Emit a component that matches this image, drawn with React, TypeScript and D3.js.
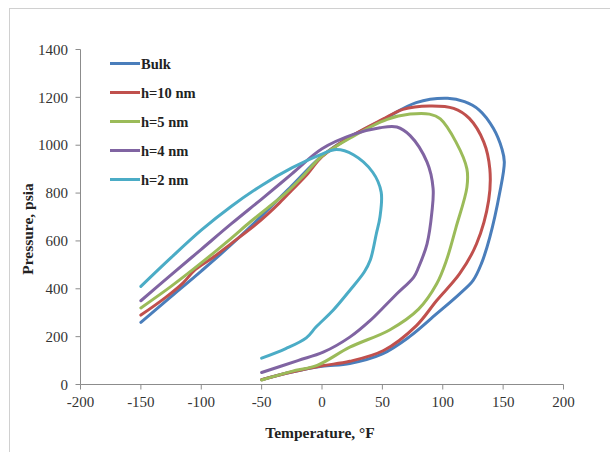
import React from "react";
import * as d3 from "d3";

type Pt = [number, number];

const seriesNames = ["Bulk", "h=10 nm", "h=5 nm", "h=4 nm", "h=2 nm"];
const seriesColors = ["#4A7EBB", "#C0504D", "#9BBB59", "#8064A2", "#4BACC6"];

const bulk: Pt[] = [
  [-150, 260], [-125, 367], [-100, 474], [-75, 585], [-50, 705], [-25, 830], [0, 955],
  [25, 1040], [50, 1105], [78, 1178], [104, 1196], [118, 1182], [130, 1148], [142, 1070],
  [149, 985], [151, 930], [147, 797], [139, 616], [132, 505], [125, 434], [114, 379],
  [95, 296], [72, 198], [50, 128], [23, 88], [0, 76], [-25, 52], [-50, 20],
];
const h10: Pt[] = [
  [-150, 290], [-130, 362], [-115, 425], [-105, 480], [-90, 532], [-75, 590], [-55, 668],
  [-45, 712], [-35, 760], [-25, 812], [-12, 880], [0, 952], [25, 1040], [50, 1108], [67, 1150],
  [89, 1164], [109, 1154], [122, 1112], [134, 1013], [139, 900], [138, 769], [128, 588],
  [114, 463], [95, 351], [78, 245], [51, 142], [23, 97], [0, 78], [-25, 52], [-50, 20],
];
const h5: Pt[] = [
  [-150, 320], [-125, 410], [-100, 508], [-75, 612], [-60, 677], [-45, 738], [-30, 800],
  [-15, 875], [0, 955], [25, 1035], [54, 1108], [73, 1130], [89, 1130], [98, 1110],
  [111, 1013], [120, 901], [120, 824], [111, 657], [103, 518], [95, 421], [80, 315],
  [56, 228], [23, 156], [-4, 80], [-25, 55], [-50, 19],
];
const h4: Pt[] = [
  [-150, 350], [-125, 458], [-100, 565], [-75, 672], [-50, 775], [-25, 880], [0, 985],
  [26, 1045], [48, 1073], [62, 1076], [73, 1040], [87, 929], [92, 820], [91, 720],
  [87, 588], [80, 490], [76, 449], [62, 379], [51, 323], [40, 268], [23, 198], [1, 135],
  [-20, 100], [-50, 50],
];
const h2: Pt[] = [
  [-150, 410], [-125, 530], [-100, 645], [-75, 745], [-50, 832], [-25, 905], [0, 963],
  [12, 982], [26, 960], [42, 887], [49, 804], [48, 700], [45, 630], [40, 520], [35, 470],
  [23, 393], [9, 309], [-5, 240], [-13, 195], [-30, 150], [-50, 110],
];
const seriesData: Pt[][] = [bulk, h10, h5, h4, h2];

const xTicks = [-200, -150, -100, -50, 0, 50, 100, 150, 200];
const yTicks = [0, 200, 400, 600, 800, 1000, 1200, 1400];

export default function App() {
  const W = 610, H = 452;
  const x = d3.scaleLinear().domain([-200, 200]).range([80.5, 563.5]);
  const y = d3.scaleLinear().domain([0, 1400]).range([384.5, 49.5]);
  const line = d3
    .line<Pt>()
    .x((d) => x(d[0]))
    .y((d) => y(d[1]))
    .curve(d3.curveCatmullRom.alpha(0.5));
  const font = "'Liberation Serif', 'Times New Roman', serif";
  const axisColor = "#8c8c8c";
  return (
    <svg
      width={W}
      height={H}
      style={{ position: "absolute", left: 0, top: 0, background: "#fff" }}
      fontFamily={font}
    >
      <rect x={9.5} y={8.5} width={700} height={700} fill="#fff" stroke="#d0d0d0" />
      <line x1={x(-200)} x2={x(-200)} y1={y(1400)} y2={y(0)} stroke={axisColor} />
      <line x1={x(-200)} x2={x(200)} y1={y(0)} y2={y(0)} stroke={axisColor} />
      {yTicks.map((t) => (
        <g key={"y" + t}>
          <line x1={x(-200) - 5} x2={x(-200)} y1={y(t)} y2={y(t)} stroke={axisColor} />
          <text x={68} y={y(t)} dy="0.35em" textAnchor="end" fontSize={15} fill="#333">
            {t}
          </text>
        </g>
      ))}
      {xTicks.map((t) => (
        <g key={"x" + t}>
          <line x1={x(t)} x2={x(t)} y1={y(0)} y2={y(0) + 5} stroke={axisColor} />
          <text x={x(t)} y={407} textAnchor="middle" fontSize={15} fill="#333">
            {t}
          </text>
        </g>
      ))}
      <text x={320} y={438} textAnchor="middle" fontSize={15.5} fontWeight="bold" fill="#222">
        Temperature, °F
      </text>
      <text
        transform={`translate(33,229) rotate(-90)`}
        textAnchor="middle"
        fontSize={15.5}
        fontWeight="bold"
        fill="#222"
      >
        Pressure, psia
      </text>
      {seriesData.map((d, i) => (
        <path
          key={seriesNames[i]}
          d={line(d) || ""}
          fill="none"
          stroke={seriesColors[i]}
          strokeWidth={3}
          strokeLinejoin="round"
          strokeLinecap="round"
        />
      ))}
      {seriesNames.map((n, i) => {
        const ly = 63.5 + i * 29;
        return (
          <g key={"lg" + n}>
            <line x1={110} x2={140} y1={ly} y2={ly} stroke={seriesColors[i]} strokeWidth={3} />
            <text x={141} y={ly} dy="0.35em" fontSize={14.5} fontWeight="bold" fill="#222">
              {n}
            </text>
          </g>
        );
      })}
    </svg>
  );
}
